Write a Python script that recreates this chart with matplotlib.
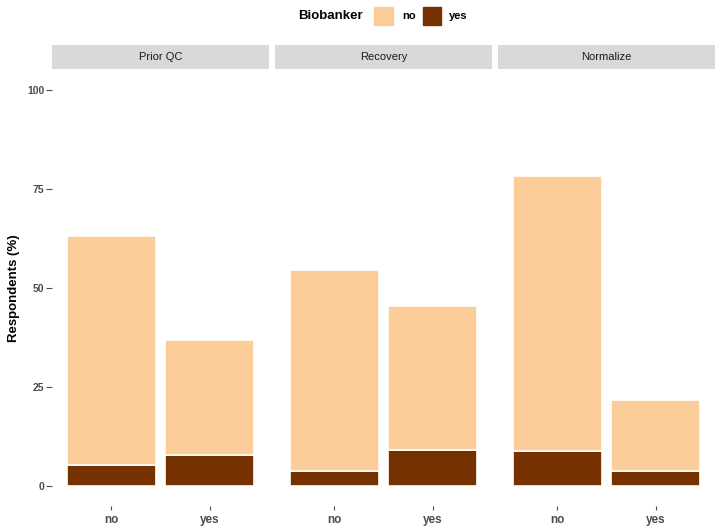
import matplotlib
matplotlib.use("Agg")
import matplotlib.pyplot as plt
from matplotlib.patches import Rectangle

plt.rcParams['font.family'] = ['Liberation Sans', 'DejaVu Sans']

# data (percent of respondents)
facets = ['Prior QC', 'Recovery', 'Normalize']
answers = ['no', 'yes']
biobanker_yes = [[5.3, 7.8], [3.9, 9.1], [8.8, 3.9]]
totals = [[63.2, 36.8], [54.5, 45.5], [78.3, 21.7]]
biobanker_no = [[t - y for t, y in zip(tt, yy)] for tt, yy in zip(totals, biobanker_yes)]

col_no = '#FDCD99'
col_yes = '#763100'
tick_col = '#4D4D4D'

W, H = 726, 530
fig = plt.figure(figsize=(W / 100, H / 100), dpi=100)

lefts = [52, 275, 498]
pw = 217
top, bottom = 70, 506
strip_h = 24

for i, name in enumerate(facets):
    ax = fig.add_axes([lefts[i] / W, 1 - bottom / H, pw / W, (bottom - top) / H])
    x = range(1, len(answers) + 1)
    ax.bar(x, biobanker_yes[i], width=0.9, color=col_yes, edgecolor='white', linewidth=1.2)
    ax.bar(x, biobanker_no[i], width=0.9, bottom=biobanker_yes[i], color=col_no,
           edgecolor='white', linewidth=1.2)
    ax.set_xlim(0.4, 2.6)
    ax.set_ylim(-5, 105)
    ax.set_xticks(list(x))
    ax.set_xticklabels(answers, fontsize=8.5, fontweight='bold', color=tick_col)
    ax.set_yticks([0, 25, 50, 75, 100])
    for s in ax.spines.values():
        s.set_visible(False)
    ax.tick_params(axis='x', length=3, width=0.8, color=tick_col, pad=3)
    ax.tick_params(axis='y', length=4, width=0.8, color=tick_col, pad=1.5)
    if i == 0:
        ax.set_yticklabels(['0', '25', '50', '75', '100'], fontsize=7.5,
                           fontweight='bold', color=tick_col)
        ax.set_ylabel('Respondents (%)', fontsize=9.5, fontweight='bold', labelpad=5)
    else:
        ax.tick_params(axis='y', left=False, labelleft=False)

    sax = fig.add_axes([lefts[i] / W, 1 - (top - 1) / H, pw / W, strip_h / H])
    sax.set_facecolor('#D9D9D9')
    sax.set_xticks([])
    sax.set_yticks([])
    for s in sax.spines.values():
        s.set_visible(False)
    sax.text(0.5, 0.5, name, ha='center', va='center', fontsize=8, color='#1A1A1A',
             transform=sax.transAxes)

# legend at top
fig.text(298 / W, 1 - 16 / H, 'Biobanker', ha='left', va='center', fontsize=9.5,
         fontweight='bold')
fig.patches.append(Rectangle((374 / W, 1 - 25 / H), 19 / W, 18 / H, color=col_no,
                             transform=fig.transFigure, figure=fig))
fig.text(402 / W, 1 - 16 / H, 'no', ha='left', va='center', fontsize=8, fontweight='bold')
fig.patches.append(Rectangle((423 / W, 1 - 25 / H), 18 / W, 18 / H, color=col_yes,
                             transform=fig.transFigure, figure=fig))
fig.text(449 / W, 1 - 16 / H, 'yes', ha='left', va='center', fontsize=8, fontweight='bold')

fig.savefig('out.png', dpi=100)
